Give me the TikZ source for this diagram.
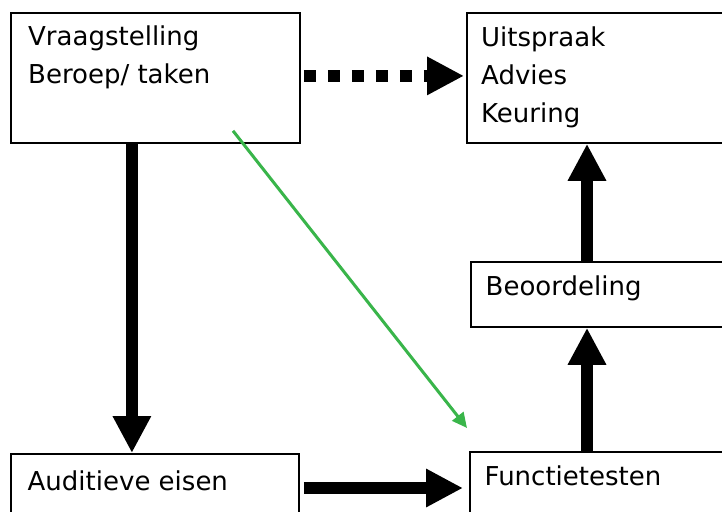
\documentclass[tikz,border=0pt]{standalone}
\usepackage{fontspec}
\setmainfont{DejaVu Sans}
\usetikzlibrary{arrows.meta,calc}
\definecolor{arrowgreen}{RGB}{57,181,74}
\begin{document}
\begin{tikzpicture}[x=1pt,y=-1pt,
  box/.style={draw=black,line width=1.8pt,rectangle,inner sep=0pt,anchor=north west},
  lbl/.style={anchor=base west,inner sep=0pt,align=left,font=\fontsize{26}{38}\selectfont},
  thickarrow/.style={line width=12pt,-{Triangle[length=37pt,width=36pt]}},
  dotarrow/.style={thickarrow,dash pattern=on 12pt off 12pt},
  greenarrow/.style={draw=arrowgreen,line width=3pt,-{Triangle[length=15pt,width=14pt]}}]
\useasboundingbox (0,0) rectangle (722,511);
\clip (0,0) rectangle (722,511);
\fill[white] (0,0) rectangle (722,511);
% boxes
\node[box,minimum width=289pt,minimum height=130pt] (vraag) at (10,12) {};
\node[box,minimum width=290pt,minimum height=130pt] (uit) at (466,12) {};
\node[box,minimum width=290pt,minimum height=65pt] (beo) at (470,261) {};
\node[box,minimum width=288pt,minimum height=90pt] (aud) at (10,453) {};
\node[box,minimum width=290pt,minimum height=90pt] (func) at (469,451) {};
% texts (base anchor = baseline of last line)
\node[lbl] (t1) at (28,83) {Vraagstelling\\Beroep/ taken};
\node[lbl] (t2) at (481,122) {Uitspraak\\Advies\\Keuring};
\node[lbl] (t3) at (485.5,295) {Beoordeling};
\node[lbl] (t4) at (484.5,485) {Functietesten};
\node[lbl] (t5) at (27.5,490) {Auditieve eisen};
% connectors
\draw[thickarrow] ([xshift=-23.5pt]vraag.south) -- ([xshift=-23pt]aud.north);
\coordinate (d1) at ([xshift=3pt,yshift=2pt]vraag.east);
\draw[dotarrow] (d1) -- ($(d1 -| uit.west)+(-2,0)$);
\coordinate (h1) at ($(aud.north east)+(4,35)$);
\draw[thickarrow] (h1) -- ($(h1 -| func.west)+(-6,0)$);
\coordinate (v1) at ($(func.north west)+(118,0)$);
\draw[thickarrow] (v1) -- (v1 |- beo.south);
\coordinate (v2) at (v1 |- beo.north);
\draw[thickarrow] (v2) -- (v2 |- uit.south);
\coordinate (g1) at ($(vraag.south west)+(223,-13)$);
\coordinate (g2) at ($(func.north west)+(-2,-23)$);
\draw[greenarrow] (g1) -- (g2);
\end{tikzpicture}
\end{document}
